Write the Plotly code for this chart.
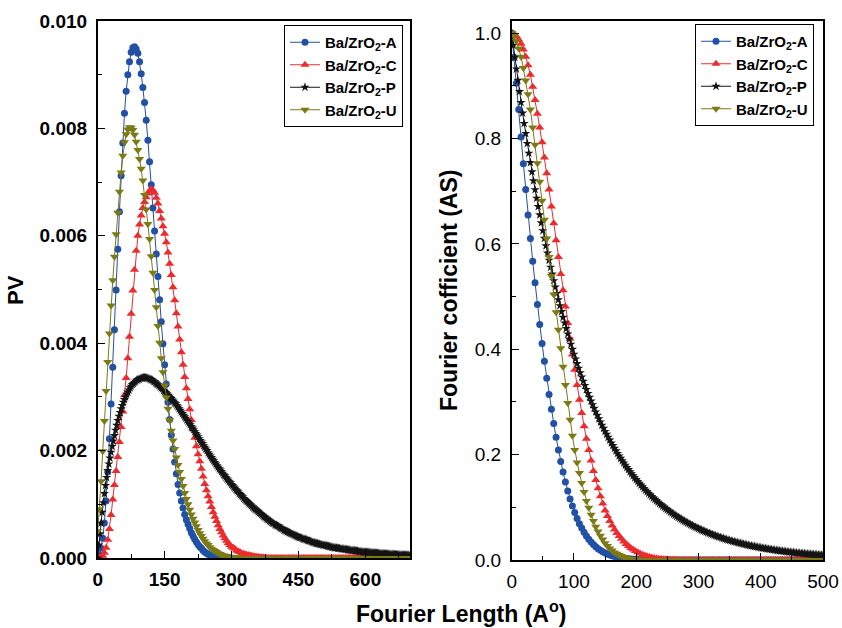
import plotly.graph_objects as go

# ---------------- data ----------------
STEP_ACU = 3.75   # Fourier length step for samples A, C, U (Angstrom)
STEP_P = 2.5      # Fourier length step for sample P (Angstrom)

series_names = ["Ba/ZrO<sub>2</sub>-A", "Ba/ZrO<sub>2</sub>-C",
                "Ba/ZrO<sub>2</sub>-P", "Ba/ZrO<sub>2</sub>-U"]

# Left panel: PV versus Fourier length
pv_A = [0.0, 0.00006, 0.00018, 0.00037, 0.00065, 0.00106, 0.00160, 0.00222, 0.00287, 0.00355,
        0.00425, 0.00499, 0.00575, 0.00645, 0.00712, 0.00773, 0.00828, 0.00869, 0.00900, 0.00924,
        0.00942, 0.00950, 0.00952, 0.00948, 0.00940, 0.00924, 0.00902, 0.00876, 0.00848, 0.00815,
        0.00778, 0.00738, 0.00695, 0.00652, 0.00609, 0.00566, 0.00524, 0.00481, 0.00440, 0.00399,
        0.00360, 0.00324, 0.00290, 0.00258, 0.00229, 0.00203, 0.00179, 0.00157, 0.00137, 0.00121,
        0.00106, 0.00093, 0.00081, 0.00071, 0.00063, 0.00055, 0.00047, 0.00041, 0.00035, 0.00030,
        0.00025, 0.00021, 0.00018, 0.00014, 0.00011, 0.00009, 0.00007, 0.000055, 0.00004, 0.000025,
        0.000015, 0.000008, 0.0, 0.0, 0.0, 0.0, 0.0, 0.0, 0.0, 0.0]

pv_C = [0.0, 0.0, 0.00001, 0.00004, 0.00010, 0.00019, 0.00034, 0.00054, 0.00080, 0.00109,
        0.00136, 0.00162, 0.00188, 0.00216, 0.00244, 0.00273, 0.00303, 0.00335, 0.00372, 0.00412,
        0.00455, 0.00498, 0.00537, 0.00572, 0.00600, 0.00621, 0.00638, 0.00652, 0.00663, 0.00672,
        0.00679, 0.00684, 0.00687, 0.00685, 0.00680, 0.00671, 0.00660, 0.00646, 0.00632, 0.00618,
        0.00604, 0.00588, 0.00569, 0.00548, 0.00527, 0.00504, 0.00480, 0.00456, 0.00431, 0.00407,
        0.00383, 0.00360, 0.00337, 0.00316, 0.00296, 0.00277, 0.00257, 0.00240, 0.00224, 0.00208,
        0.00193, 0.00180, 0.00166, 0.00152, 0.00138, 0.00126, 0.00115, 0.00105, 0.00095, 0.00085,
        0.00077, 0.00069, 0.00061, 0.00054, 0.00048, 0.00042, 0.00037, 0.00032, 0.00028, 0.00024,
        0.00021, 0.00019, 0.00017, 0.00014, 0.00012, 0.00011, 0.00009, 0.00008, 0.00007, 0.00006,
        0.000055, 0.000048, 0.00004, 0.000033, 0.000028, 0.000024, 0.00002, 0.000016, 0.000013, 0.000009,
        0.000005] + [0.0] * 86

pv_P = [0.0, 0.00024, 0.00045, 0.00065, 0.00085, 0.00103, 0.00120, 0.00135, 0.00150, 0.00163,
        0.00175, 0.00186, 0.00197, 0.00208, 0.00218, 0.00228, 0.00238, 0.00247, 0.00256, 0.00264,
        0.00271, 0.00278, 0.00284, 0.00290, 0.00295, 0.00300, 0.00305, 0.00309, 0.00313, 0.00317,
        0.00320, 0.00323, 0.00325, 0.00327, 0.00329, 0.00331, 0.00332, 0.00333, 0.00334, 0.00335,
        0.00335, 0.00336, 0.00336, 0.00336, 0.00335, 0.00335, 0.00334, 0.00333, 0.00332, 0.00331,
        0.00329, 0.00328, 0.00326, 0.00324, 0.00323, 0.00321, 0.00319, 0.00317, 0.00315, 0.00312,
        0.00310, 0.00308, 0.00306, 0.00303, 0.00301, 0.00299, 0.00297, 0.00294, 0.00292, 0.00289,
        0.00287, 0.00284, 0.00281, 0.00278, 0.00275, 0.00272, 0.00269, 0.00266, 0.00263, 0.00260,
        0.00257, 0.00254, 0.00251, 0.00248, 0.00245, 0.00242, 0.00239, 0.00235, 0.00232, 0.00229,
        0.00226, 0.00222, 0.00219, 0.00216, 0.00213, 0.00209, 0.00206, 0.00203, 0.00200, 0.00196,
        0.00193, 0.00190, 0.00187, 0.00184, 0.00181, 0.00178, 0.00175, 0.00172, 0.00169, 0.00166,
        0.00164, 0.00161, 0.00158, 0.00155, 0.00153, 0.00150, 0.00147, 0.00145, 0.00142, 0.00140,
        0.00137, 0.00135, 0.00132, 0.00130, 0.00127, 0.00125, 0.00123, 0.00120, 0.00118, 0.00116,
        0.00114, 0.00111, 0.00109, 0.00107, 0.00105, 0.00103, 0.00101, 0.00099, 0.00097, 0.00095,
        0.00093, 0.00091, 0.00090, 0.00088, 0.00086, 0.00084, 0.00083, 0.00081, 0.00079, 0.00077,
        0.00076, 0.00074, 0.00072, 0.00071, 0.00069, 0.00068, 0.00066, 0.00065, 0.00064, 0.00062,
        0.00061, 0.00060, 0.00059, 0.00057, 0.00056, 0.00055, 0.00054, 0.00052, 0.00051, 0.00050,
        0.00049, 0.00048, 0.00047, 0.00046, 0.00045, 0.00044, 0.00043, 0.00042, 0.00041, 0.00040,
        0.00039, 0.00038, 0.00038, 0.00037, 0.00036, 0.00035, 0.00035, 0.00034, 0.00033, 0.00032,
        0.00032, 0.00031, 0.00030, 0.00029, 0.00029, 0.00028, 0.00027, 0.00027, 0.00026, 0.00026,
        0.00025, 0.00025, 0.00024, 0.00024, 0.00023, 0.00023, 0.00022, 0.00022, 0.00021, 0.00021,
        0.00020, 0.00020, 0.00019, 0.00019, 0.00019, 0.00018, 0.00018, 0.00018, 0.00017, 0.00017,
        0.00017, 0.00016, 0.00016, 0.00016, 0.00015, 0.00015, 0.00015, 0.00014, 0.00014, 0.00014,
        0.00014, 0.00013, 0.00013, 0.00013, 0.00012, 0.00012, 0.00012, 0.00012, 0.00011, 0.00011,
        0.000110, 0.000108, 0.000106, 0.000104, 0.000102, 0.000100, 0.000098, 0.000096, 0.000094, 0.000092,
        0.000090, 0.000088, 0.000086, 0.000085, 0.000083, 0.000081, 0.000080, 0.000078, 0.000077, 0.000075,
        0.000074, 0.000072, 0.000071, 0.000070, 0.000068, 0.000067, 0.000066, 0.000064, 0.000063, 0.000062,
        0.000061, 0.000060, 0.000059, 0.000057, 0.000056, 0.000055, 0.000054, 0.000053, 0.000052, 0.000051,
        0.000050]

pv_U = [0.00050, 0.00091, 0.00143, 0.00199, 0.00255, 0.00311, 0.00365, 0.00418, 0.00470, 0.00517,
        0.00561, 0.00603, 0.00643, 0.00682, 0.00718, 0.00749, 0.00774, 0.00789, 0.00798, 0.00802,
        0.00801, 0.00797, 0.00788, 0.00775, 0.00760, 0.00743, 0.00725, 0.00703, 0.00676, 0.00649,
        0.00622, 0.00594, 0.00562, 0.00531, 0.00499, 0.00467, 0.00432, 0.00401, 0.00372, 0.00346,
        0.00321, 0.00299, 0.00278, 0.00257, 0.00237, 0.00219, 0.00203, 0.00187, 0.00173, 0.00160,
        0.00147, 0.00134, 0.00121, 0.00110, 0.00100, 0.00090, 0.00081, 0.00073, 0.00066, 0.00059,
        0.00052, 0.00046, 0.00041, 0.00036, 0.00031, 0.00027, 0.00024, 0.00020, 0.00017, 0.00015,
        0.00013, 0.00011, 0.00009, 0.000075, 0.00006, 0.000048, 0.00004, 0.000033, 0.000028, 0.000024,
        0.00002, 0.000016, 0.000013, 0.000009, 0.000005] + [0.0] * 102

# Right panel: Fourier coefficient (AS) versus Fourier length
as_A = [1.000, 0.954, 0.905, 0.855, 0.803, 0.752, 0.703, 0.655, 0.610, 0.567,
        0.526, 0.485, 0.447, 0.411, 0.377, 0.345, 0.314, 0.286, 0.259, 0.233,
        0.209, 0.187, 0.167, 0.148, 0.131, 0.116, 0.1025, 0.090, 0.079, 0.069,
        0.0605, 0.0526, 0.0455, 0.0395, 0.0341, 0.0293, 0.0250, 0.0215, 0.0184, 0.0156,
        0.0132, 0.0113, 0.0096, 0.0081, 0.0067, 0.0057, 0.0047, 0.0039, 0.0032, 0.0027,
        0.0022, 0.0018, 0.0014, 0.0012, 0.0010, 0.0008, 0.0006, 0.0005, 0.0004, 0.0003,
        0.0002, 0.0001, 0.0001, 0.0001] + [0.0] * 70

as_C = [1.000, 0.998, 0.994, 0.988, 0.980, 0.969, 0.955, 0.939, 0.921, 0.898,
        0.873, 0.847, 0.821, 0.793, 0.764, 0.734, 0.703, 0.671, 0.639, 0.607,
        0.575, 0.543, 0.512, 0.481, 0.450, 0.420, 0.390, 0.361, 0.332, 0.304,
        0.279, 0.254, 0.230, 0.209, 0.189, 0.169, 0.152, 0.136, 0.121, 0.107,
        0.094, 0.0835, 0.074, 0.0655, 0.058, 0.0513, 0.0455, 0.0403, 0.035, 0.0305,
        0.0265, 0.023, 0.020, 0.017, 0.0145, 0.0123, 0.010, 0.0085, 0.007, 0.0057,
        0.0047, 0.0038, 0.0031, 0.0025, 0.0020, 0.0016, 0.0013, 0.0009, 0.0007, 0.0006,
        0.0004, 0.0003, 0.0002, 0.0002, 0.0001, 0.0001, 0.0001] + [0.0] * 57

as_P = [1.0000, 0.9768, 0.9541, 0.9319, 0.9103, 0.8891, 0.8685, 0.8483, 0.8286, 0.8094,
        0.7906, 0.7722, 0.7543, 0.7367, 0.7196, 0.7029, 0.6866, 0.6707, 0.6551, 0.6399,
        0.6250, 0.6105, 0.5963, 0.5825, 0.5689, 0.5557, 0.5428, 0.5302, 0.5179, 0.5059,
        0.4941, 0.4826, 0.4714, 0.4605, 0.4498, 0.4393, 0.4291, 0.4192, 0.4094, 0.3999,
        0.3906, 0.3816, 0.3727, 0.3640, 0.3556, 0.3473, 0.3393, 0.3314, 0.3237, 0.3162,
        0.3088, 0.3016, 0.2946, 0.2878, 0.2811, 0.2746, 0.2682, 0.2620, 0.2559, 0.2499,
        0.2441, 0.2385, 0.2329, 0.2275, 0.2222, 0.2171, 0.2120, 0.2071, 0.2023, 0.1976,
        0.1930, 0.1885, 0.1841, 0.1799, 0.1757, 0.1716, 0.1676, 0.1637, 0.1599, 0.1562,
        0.1526, 0.1490, 0.1456, 0.1422, 0.1389, 0.1357, 0.1325, 0.1294, 0.1264, 0.1235,
        0.1206, 0.1178, 0.1151, 0.1124, 0.1098, 0.1073, 0.1048, 0.1023, 0.1000, 0.0976,
        0.0954, 0.0932, 0.0910, 0.0889, 0.0868, 0.0848, 0.0828, 0.0809, 0.0790, 0.0772,
        0.0754, 0.0736, 0.0719, 0.0703, 0.0686, 0.0670, 0.0655, 0.0640, 0.0625, 0.0610,
        0.0596, 0.0582, 0.0569, 0.0555, 0.0543, 0.0530, 0.0518, 0.0506, 0.0494, 0.0482,
        0.0471, 0.0460, 0.0450, 0.0439, 0.0429, 0.0419, 0.0409, 0.0400, 0.0390, 0.0381,
        0.0373, 0.0364, 0.0355, 0.0347, 0.0339, 0.0331, 0.0324, 0.0316, 0.0309, 0.0302,
        0.0295, 0.0288, 0.0281, 0.0274, 0.0268, 0.0262, 0.0256, 0.0250, 0.0244, 0.0238,
        0.0233, 0.0227, 0.0222, 0.0217, 0.0212, 0.0207, 0.0202, 0.0198, 0.0193, 0.0188,
        0.0184, 0.0180, 0.0176, 0.0172, 0.0168, 0.0164, 0.0160, 0.0156, 0.0153, 0.0149,
        0.0146, 0.0142, 0.0139, 0.0136, 0.0132, 0.0129, 0.0126, 0.0123, 0.0121, 0.0118,
        0.0115, 0.0112, 0.0110, 0.0107, 0.0105, 0.0102, 0.0100, 0.0098, 0.0095, 0.0093,
        0.0091]

as_U = [1.000, 0.995, 0.985, 0.971, 0.955, 0.934, 0.910, 0.884, 0.855, 0.821,
        0.788, 0.753, 0.718, 0.682, 0.646, 0.610, 0.575, 0.539, 0.504, 0.470,
        0.437, 0.402, 0.367, 0.332, 0.298, 0.266, 0.236, 0.209, 0.185, 0.165,
        0.146, 0.129, 0.112, 0.099, 0.086, 0.074, 0.063, 0.054, 0.046, 0.0388,
        0.032, 0.0268, 0.022, 0.0178, 0.014, 0.0118, 0.0095, 0.0074, 0.0055, 0.0040,
        0.0029, 0.0020, 0.0013, 0.0009, 0.0005, 0.0003, 0.0001] + [0.0] * 77

left_xticks = [0, 150, 300, 450, 600]
right_xticks = [0, 100, 200, 300, 400, 500]

# ---------------- styling ----------------
FONT = "Liberation Sans, Arial, Helvetica, sans-serif"
colors = ["#2150a6", "#ec2b2e", "#141414", "#7b7a14"]
symbols = ["circle", "triangle-up", "star", "triangle-down"]
msizes = [7, 8, 7, 8]


def grid(values, step):
    return [i * step for i in range(len(values))]


left_data = [pv_A, pv_C, pv_P, pv_U]
right_data = [as_A, as_C, as_P, as_U]
steps = [STEP_ACU, STEP_ACU, STEP_P, STEP_ACU]

fig = go.Figure()
for k in range(4):
    fig.add_trace(go.Scatter(
        x=grid(left_data[k], steps[k]), y=left_data[k],
        mode="lines+markers", name="<b>" + series_names[k] + "</b>",
        line=dict(color=colors[k], width=1),
        marker=dict(symbol=symbols[k], size=msizes[k], color=colors[k], line=dict(width=0)),
        xaxis="x", yaxis="y", legend="legend"))
for k in range(4):
    fig.add_trace(go.Scatter(
        x=grid(right_data[k], steps[k]), y=right_data[k],
        mode="lines+markers", name="<b>" + series_names[k] + "</b>",
        line=dict(color=colors[k], width=1),
        marker=dict(symbol=symbols[k], size=msizes[k], color=colors[k], line=dict(width=0)),
        xaxis="x2", yaxis="y2", legend="legend2"))

W, H = 842, 628
ax_common = dict(showline=True, linecolor="black", linewidth=1.6, mirror=True,
                 showgrid=False, zeroline=False, ticks="inside", ticklen=7,
                 tickwidth=1.4, tickcolor="black", automargin=False)
minor_common = dict(ticks="inside", ticklen=4, tickwidth=1.2, tickcolor="black", showgrid=False)

fig.update_layout(
    width=W, height=H, autosize=False,
    margin=dict(l=0, r=0, t=0, b=0, pad=0),
    paper_bgcolor="white", plot_bgcolor="white",
    font=dict(family=FONT, color="black"),
    xaxis=dict(domain=[97.7 / W, 410 / W], range=[0, 700], anchor="y",
               tickvals=left_xticks, ticklabelstandoff=3,
               tickfont=dict(size=19, weight="bold"),
               minor=dict(dtick=75, tick0=0, **minor_common),
               **ax_common),
    yaxis=dict(domain=[1 - 558 / H, 1 - 21 / H], range=[0, 0.010], anchor="x",
               dtick=0.002, tick0=0, tickformat=".3f", ticklabelstandoff=5,
               tickfont=dict(size=19, weight="bold"),
               minor=dict(dtick=0.001, tick0=0, **minor_common),
               **ax_common),
    xaxis2=dict(domain=[511.7 / W, 823 / W], range=[0, 500], anchor="y2",
                tickvals=right_xticks, ticklabelstandoff=3,
                tickfont=dict(size=19),
                minor=dict(dtick=50, tick0=0, **minor_common),
                **ax_common),
    yaxis2=dict(domain=[1 - 560 / H, 1 - 21 / H], range=[0, 1.023], anchor="x2",
                dtick=0.2, tick0=0, tickformat=".1f", ticklabelstandoff=5,
                tickfont=dict(size=19),
                minor=dict(dtick=0.1, tick0=0, **minor_common),
                **ax_common),
    legend=dict(x=403 / W, y=1 - 25 / H, xanchor="right", yanchor="top",
                bgcolor="white", bordercolor="black", borderwidth=1,
                font=dict(size=15, family=FONT), tracegroupgap=0, itemwidth=30),
    legend2=dict(x=814 / W, y=1 - 24 / H, xanchor="right", yanchor="top",
                 bgcolor="white", bordercolor="black", borderwidth=1,
                 font=dict(size=15, family=FONT), tracegroupgap=0, itemwidth=30),
    annotations=[
        dict(text="<b>PV</b>", x=15 / W, y=1 - 290 / H, xref="paper", yref="paper",
             xanchor="center", yanchor="middle",
             textangle=-90, showarrow=False, font=dict(size=22)),
        dict(text="<b>Fourier cofficient (AS)</b>", x=449 / W, y=1 - 290 / H,
             xref="paper", yref="paper", xanchor="center", yanchor="middle",
             textangle=-90, showarrow=False, font=dict(size=23)),
        dict(text="<b>Fourier Length (A<sup>o</sup>)</b>", x=461 / W, y=1 - 612 / H,
             xref="paper", yref="paper", xanchor="center", yanchor="middle",
             showarrow=False, font=dict(size=23)),
    ],
)

# the page body has a default 8px margin; remove it so the figure fills the window
fig.write_html("out.html",
               config={"displayModeBar": False},
               post_script="document.body.style.margin='0';document.body.style.padding='0';")
